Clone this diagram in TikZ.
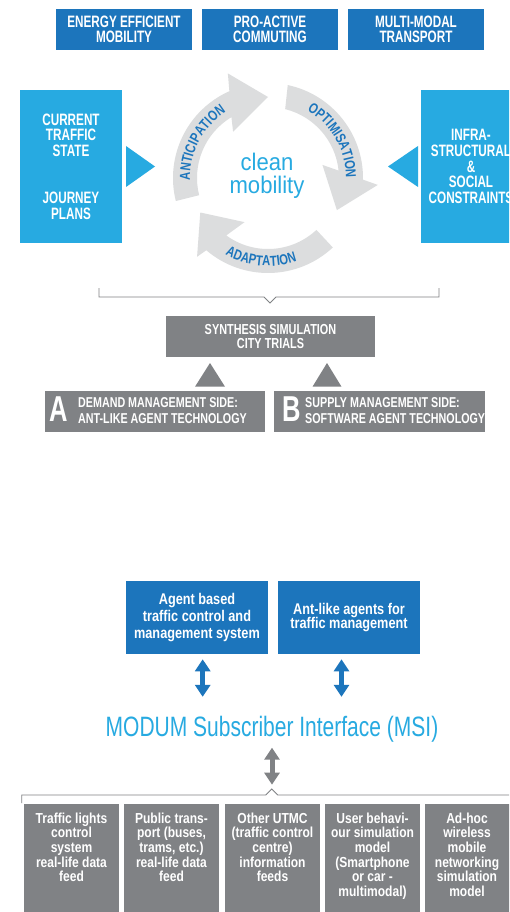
\documentclass[tikz,border=0pt]{standalone}
\usepackage{fontspec}
\setmainfont{Liberation Sans}
\newfontfamily\fA[FakeStretch=0.71]{Liberation Sans}
\newfontfamily\fF[FakeStretch=0.75]{Liberation Sans}
\newfontfamily\fB[FakeStretch=0.83]{Liberation Sans}
\newfontfamily\fG[FakeStretch=0.82]{Liberation Sans}
\newfontfamily\fC[FakeStretch=0.92]{Liberation Sans}
\newfontfamily\fD[FakeStretch=0.75]{Liberation Sans}
\newfontfamily\fE[FakeStretch=0.78]{Liberation Sans}
\usetikzlibrary{arrows.meta,decorations.text,calc}
\definecolor{dblue}{HTML}{1C75BC}
\definecolor{lblue}{HTML}{27AAE1}
\definecolor{gbox}{HTML}{808285}
\definecolor{garc}{HTML}{DCDDDE}
\begin{document}
\begin{tikzpicture}[x=1pt,y=1pt,
  boxbase/.style={inner sep=0pt, outer sep=0pt, anchor=north west, align=center, text=white},
  topbox/.style={boxbase, fill=dblue, minimum width=136pt, minimum height=41pt,
     font=\fA\bfseries\fontsize{16.5}{15}\selectfont},
  sidebox/.style={boxbase, fill=lblue, minimum height=153pt,
     font=\fA\bfseries\fontsize{16.5}{15.8}\selectfont},
  graybox/.style={boxbase, fill=gbox},
  agentbox/.style={boxbase, fill=dblue, minimum height=72.5pt, minimum width=142pt},
  feedbox/.style={boxbase, fill=gbox, minimum width=95pt, minimum height=120pt},
  feedtext/.style={inner sep=0pt, anchor=north, align=center, text=white,
     font=\fB\bfseries\fontsize{14.5}{14.6}\selectfont},
  bigletter/.style={inner sep=0pt, anchor=base west, text=white,
     font=\fA\bfseries\fontsize{36}{36}\selectfont},
  abtext/.style={inner sep=0pt, anchor=north west, align=left, text=white,
     font=\fF\bfseries\fontsize{14.3}{15.3}\selectfont},
  pointer/.style={fill=lblue},
  uptri/.style={fill=gbox},
  bracket/.style={draw=gbox, line width=0.8pt},
  dblarrow/.style={line width=5pt, {Triangle[width=15pt,length=12pt]}-{Triangle[width=15pt,length=12pt]}},
  cyc/.style={fill=garc},
  arctext/.style={decorate, decoration={text along path, text align=center, text color=dblue}}
]
\useasboundingbox (0,0) rectangle (509,-912);
\clip (0,0) rectangle (509,-912);
\fill[white] (0,0) rectangle (509,-912);

% top boxes
\node[topbox] (t1) at (56,-9) {ENERGY EFFICIENT\\MOBILITY};
\node[topbox] (t2) at (202,-9) {PRO-ACTIVE\\COMMUTING};
\node[topbox] (t3) at (348,-9) {MULTI-MODAL\\TRANSPORT};

% side boxes
\node[sidebox, minimum width=102pt] (left) at (20,-90) {CURRENT\\TRAFFIC\\STATE\\[31pt]JOURNEY\\PLANS};
\node[sidebox, minimum width=100pt] (right) at (421,-90) {INFRA-\\STRUCTURAL\\\&\\SOCIAL\\CONSTRAINTS};
\fill[pointer] (126,-146) -- (155,-166.5) -- (126,-187) -- cycle;
\fill[pointer] (418,-146) -- (388,-166.5) -- (418,-187) -- cycle;

% cycle
\begin{scope}[shift={(268,-178)}]
  \fill[cyc] (194:95pt) arc[start angle=194, end angle=114, radius=95pt]
     -- (111:112pt) -- (90:81pt) -- (127:58pt) -- (121:71pt)
     arc[start angle=121, end angle=194, radius=71pt] -- cycle;
  \fill[cyc] (78:95pt) arc[start angle=78, end angle=-1, radius=95pt]
     -- (-3.6:110pt) -- (-25:76pt) -- (13.5:56pt) -- (6:71pt)
     arc[start angle=6, end angle=76, radius=71pt] -- cycle;
  \fill[cyc] (313:95pt) arc[start angle=313, end angle=229.5, radius=95pt]
     -- (228:106pt) -- (207:76pt) -- (242:50pt) -- (234:71pt)
     arc[start angle=234, end angle=313, radius=71pt] -- cycle;
  \path[arctext, decoration={text={|\fE\bfseries\fontsize{14.5}{14.5}\selectfont|ANTICIPATION}}]
     (200:78pt) arc[start angle=200, end angle=104, radius=78pt];
  \path[arctext, decoration={text={|\fE\bfseries\fontsize{14.5}{14.5}\selectfont|OPTIMISATION}}]
     (78:78pt) arc[start angle=78, end angle=-18, radius=78pt];
  \path[arctext, decoration={text={|\fE\bfseries\fontsize{14.5}{14.5}\selectfont|ADAPTATION}}]
     (225:88pt) arc[start angle=225, end angle=305, radius=88pt];
\end{scope}
\node[inner sep=0pt, align=center, text=lblue, font=\fC\fontsize{24}{23}\selectfont] (clean) at (267,-176) {clean\\mobility};

% bracket and synthesis
\draw[bracket] (99,-288) -- (99,-297) -- (264,-297) -- (270,-303) -- (276,-297) -- (439,-297) -- (439,-288);
\node[graybox, minimum width=209pt, minimum height=40.7pt,
   font=\fF\bfseries\fontsize{14.5}{14.5}\selectfont] (syn) at (166,-316) {SYNTHESIS SIMULATION\\CITY TRIALS};
\fill[uptri] (195,-386.7) -- (210,-363) -- (225,-386.7) -- cycle;
\fill[uptri] (312.5,-386.7) -- (327,-363) -- (341.5,-386.7) -- cycle;

\node[graybox, minimum width=220pt, minimum height=40.7pt] (boxA) at (45,-391) {};
\node[bigletter] (letA) at (49.5,-421.7) {A};
\node[abtext] (txtA) at (78,-397.8) {DEMAND MANAGEMENT SIDE:\\ANT-LIKE AGENT TECHNOLOGY};
\node[graybox, minimum width=211pt, minimum height=40.7pt] (boxB) at (274,-391) {};
\node[bigletter] (letB) at (282,-421.7) {B};
\node[abtext] (txtB) at (305,-397.8) {SUPPLY MANAGEMENT SIDE:\\SOFTWARE AGENT TECHNOLOGY};

% lower part
\node[agentbox, font=\fG\bfseries\fontsize{15.5}{17}\selectfont] (ag1) at (126,-581.3) {Agent based\\traffic control and\\management system};
\node[agentbox, font=\fG\bfseries\fontsize{15.5}{14.7}\selectfont] (ag2) at (278,-581.3) {Ant-like agents for\\traffic management};
\node[inner sep=0pt, anchor=base, text=lblue, font=\fD\fontsize{28}{28}\selectfont] (msi) at (272,-736.7) {MODUM Subscriber Interface (MSI)};
\draw[dblue, dblarrow] ([xshift=5.7pt,yshift=-5.5pt]ag1.south) -- ++(0,-37.5);
\draw[dblue, dblarrow] ([xshift=-7.5pt,yshift=-5.5pt]ag2.south) -- ++(0,-37.5);
\draw[gbox, dblarrow] ([yshift=-11pt]msi.base) -- ++(0,-37);

\draw[bracket] (21.7,-803) -- (21.7,-795) -- (265.7,-795) -- (271.7,-789) -- (277.7,-795) -- (515,-795);

\node[feedbox] (f1) at (24,-804) {};
\node[feedbox] (f2) at (124,-804) {};
\node[feedbox] (f3) at (225,-804) {};
\node[feedbox] (f4) at (325,-804) {};
\node[feedbox] (f5) at (425,-804) {};
\node[feedtext] at (71.5,-812.5) {Traffic lights\\control\\system\\real-life data\\feed};
\node[feedtext] at (171.5,-812.5) {Public trans-\\port (buses,\\trams, etc.)\\real-life data\\feed};
\node[feedtext] at (272.5,-812.5) {Other UTMC\\(traffic control\\centre)\\information\\feeds};
\node[feedtext] at (372.5,-812.5) {User behavi-\\our simulation\\model\\(Smartphone\\or car -\\multimodal)};
\node[feedtext] at (467,-812.5) {Ad-hoc\\wireless\\mobile\\networking\\simulation\\model};
\end{tikzpicture}
\end{document}
